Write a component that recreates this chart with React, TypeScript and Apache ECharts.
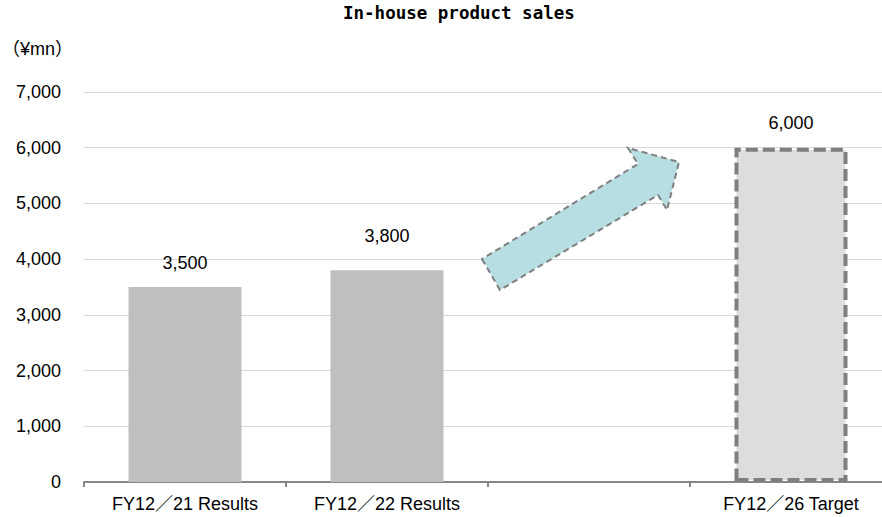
import React, { useEffect, useRef } from "react";
import * as echarts from "echarts";

const categories = ["FY12／21 Results", "FY12／22 Results", "", "FY12／26 Target"];
const salesValues: (number | null)[] = [3500, 3800, null, 6000];
const yTicks = { min: 0, max: 7000, interval: 1000 };

const FONT = "'Liberation Sans', 'Noto Sans CJK JP', sans-serif";
const TITLE_FONT = "'DejaVu Sans Mono', 'Noto Sans CJK JP', monospace";

export default function App() {
  const ref = useRef<HTMLDivElement>(null);

  useEffect(() => {
    if (!ref.current) return;
    const chart = echarts.init(ref.current, null, { renderer: "svg" });

    const barData = salesValues.map((v, i) => {
      if (v === null) return null;
      if (i === 3) {
        return {
          value: v,
          itemStyle: {
            color: "#dddddd",
            borderColor: "#7f7f7f",
            borderWidth: 4,
            borderType: [12, 5],
          },
          label: { distance: 16 },
        };
      }
      return {
        value: v,
        itemStyle: { color: "#bfbfbf" },
        label: { distance: i === 1 ? 25 : 15 },
      };
    });

    chart.setOption({
      animation: false,
      title: {
        text: "In-house product sales",
        left: 343,
        top: 4,
        padding: 0,
        textStyle: { fontFamily: TITLE_FONT, fontSize: 17.5, fontWeight: "bold", color: "#000" },
      },
      grid: {
        left: 84,
        width: 808,
        top: 92,
        bottom: 35,
        containLabel: false,
        outerBoundsMode: "none",
      },
      xAxis: {
        type: "category",
        data: categories,
        axisLine: { lineStyle: { color: "#878787", width: 2 } },
        axisTick: { show: true, length: 5, lineStyle: { color: "#878787", width: 2 } },
        axisLabel: { fontFamily: FONT, fontSize: 18, color: "#000", margin: 13 },
      },
      yAxis: {
        type: "value",
        min: yTicks.min,
        max: yTicks.max,
        interval: yTicks.interval,
        name: "（¥mn）",
        nameLocation: "end",
        nameGap: 34,
        nameTextStyle: { fontFamily: FONT, fontSize: 18, color: "#000", align: "left", padding: [0, 0, 0, -82] },
        axisLine: { show: false },
        axisTick: { show: false },
        axisLabel: {
          fontFamily: FONT,
          fontSize: 18,
          color: "#000",
          margin: 23,
          formatter: (v: number) => v.toLocaleString("en-US"),
        },
        splitLine: { lineStyle: { color: "#d9d9d9", width: 1 } },
      },
      series: [
        {
          type: "bar",
          data: barData,
          barWidth: 113,
          label: {
            show: true,
            position: "top",
            fontFamily: FONT,
            fontSize: 18,
            color: "#000",
            formatter: (p: any) => Number(p.value).toLocaleString("en-US"),
          },
        },
      ],
      graphic: [
        {
          type: "polygon",
          shape: {
            points: [
              [482, 259],
              [500, 290],
              [658, 195],
              [667, 210],
              [679, 162],
              [628, 148],
              [638, 164],
            ],
          },
          style: {
            fill: "#b7dfe3",
            stroke: "#7f7f7f",
            lineWidth: 2,
            lineDash: [6, 4],
          },
          z: 10,
        },
      ],
    });

    return () => chart.dispose();
  }, []);

  return <div ref={ref} style={{ width: 882, height: 517, position: "absolute", left: 0, top: 0 }} />;
}
